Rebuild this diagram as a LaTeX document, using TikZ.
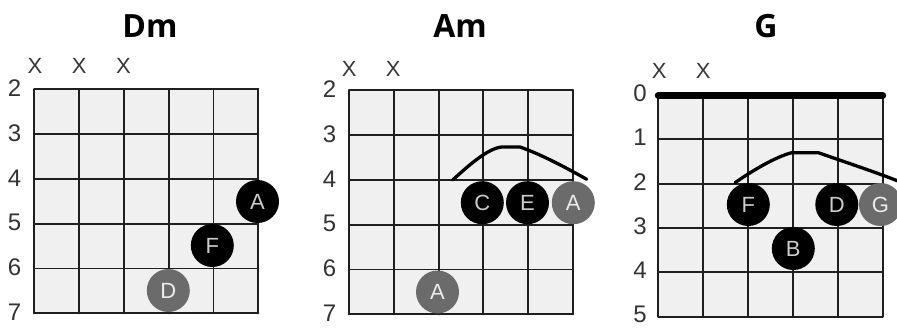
\documentclass[tikz,border=0pt]{standalone}
\usepackage{fontspec}
\setmainfont{Liberation Sans}
\newfontfamily\titlefont{Open Sans}
\tikzset{
  gridfill/.style={fill=black!6},
  gridline/.style={line width=1.9pt, draw=black!88, line cap=round},
  nutline/.style={line width=7pt, draw=black, line cap=round},
  fretnum/.style={font=\fontsize{24}{24}\selectfont, text=black!80, inner sep=0pt, anchor=center},
  mutemark/.style={font=\fontsize{22}{22}\selectfont, text=black!78, inner sep=0pt, anchor=center},
  darkdot/.style={circle, fill=black, minimum size=43pt, inner sep=0pt, text=black!20, font=\fontsize{22}{22}\selectfont},
  greydot/.style={circle, fill=black!58, minimum size=43pt, inner sep=0pt, text=black!8, font=\fontsize{22}{22}\selectfont},
  chordtitle/.style={font=\titlefont\bfseries\fontsize{32}{32}\selectfont, anchor=base, inner sep=0pt},
  barre/.style={line width=3.3pt, draw=black, line cap=round, line join=round}
}
\begin{document}
\begin{tikzpicture}[x=1pt,y=-1pt]
\useasboundingbox[fill=white] (0,0) rectangle (897,327);

% ---------- titles ----------
\node[chordtitle] (tdm) at (150,37.5) {Dm};
\node[chordtitle] (tam) at (460,37.5) {Am};
\node[chordtitle] (tg)  at (766,37.5) {G};

% ---------- Dm grid ----------
\fill[gridfill] (34.3,89.3) rectangle (258.3,313.3);
\foreach \i in {0,...,5} {
  \draw[gridline] ({34.3+44.8*\i},89.3) -- ++(0,224);
  \draw[gridline] (34.3,{89.3+44.8*\i}) -- ++(224,0);
}
\foreach \n [count=\k from 0] in {2,3,4,5,6,7}
  \node[fretnum] (dmf\n) at (14.5,{89.3+44.8*\k-1}) {\n};
\foreach \s in {0,1,2}
  \node[mutemark] (dmx\s) at ({35+44.2*\s},65.5) {X};

% ---------- Am grid ----------
\fill[gridfill] (349,90.3) rectangle (573,314.3);
\foreach \i in {0,...,5} {
  \draw[gridline] ({349+44.8*\i},90.3) -- ++(0,224);
  \draw[gridline] (349,{90.3+44.8*\i}) -- ++(224,0);
}
\foreach \n [count=\k from 0] in {2,3,4,5,6,7}
  \node[fretnum] (amf\n) at (329.5,{90.3+44.8*\k-1}) {\n};
\foreach \s in {0,1}
  \node[mutemark] (amx\s) at ({349.3+44*\s},68.5) {X};

% ---------- G grid ----------
\fill[gridfill] (658.3,95) rectangle (882.7,316.7);
\foreach \i in {0,...,5} {
  \draw[gridline] ({658.3+44.88*\i},95) -- ++(0,221.7);
  \draw[gridline] (658.3,{95+44.34*\i}) -- ++(224.4,0);
}
\draw[nutline] (658.3,95.5) -- (882.7,95.5);
\foreach \n [count=\k from 0] in {0,1,2,3,4,5}
  \node[fretnum] (gf\n) at (640,{95+44.34*\k-2}) {\n};
\foreach \s in {0,1}
  \node[mutemark] (gx\s) at ({659.3+44*\s},70.7) {X};

% ---------- Dm dots ----------
\node[darkdot] (dmA) at (257.5,201.5) {A};
\node[darkdot] (dmF) at (212.3,245.5) {F};
\node[greydot] (dmD) at (168.3,290.5) {D};

% ---------- Am dots ----------
\node[greydot] (amA1) at (573.3,202.7) {A};
\node[darkdot] (amE) at (527.5,202.7) {E};
\node[darkdot] (amC) at (482.3,202.7) {C};
\node[greydot] (amA2) at (437.5,292) {A};
\coordinate (amL) at (452.7,180);
\coordinate (amR) at (586.7,179.3);
\draw[barre] (amL) .. controls (468,166) and (488,148) .. (502,147)
  -- (520,147) .. controls (540,154) and (565,167) .. (amR);

% ---------- G dots ----------
\node[greydot] (gG) at (880.5,204.5) {G};
\node[darkdot] (gD) at (836.8,204.5) {D};
\node[darkdot] (gF) at (748.3,204.5) {F};
\node[darkdot] (gB) at (793.3,248.5) {B};
\coordinate (gL) at (735,182.7);
\coordinate (gR) at (898,181);
\draw[barre] (gL) .. controls (752,171) and (775,157) .. (791.7,152.7)
  -- (818.3,152.7) .. controls (845,162) and (875,172) .. (gR);
\end{tikzpicture}
\end{document}
